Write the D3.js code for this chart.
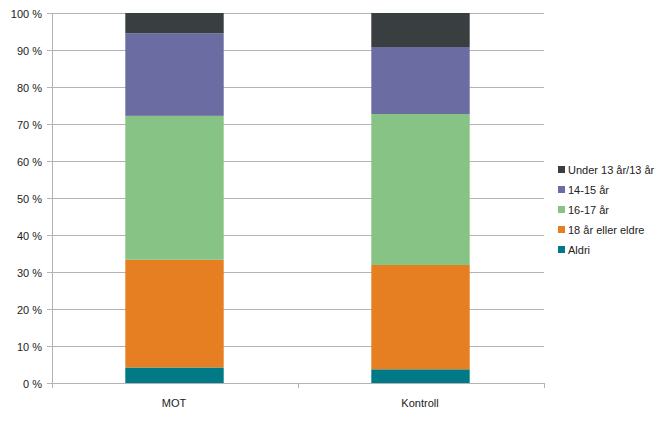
<!DOCTYPE html>
<html><head><meta charset="utf-8">
<script src="https://cdn.jsdelivr.net/npm/d3@7"></script>
<style>body{margin:0;background:#fff}svg{display:block}text{font-family:"Liberation Sans",Arial,sans-serif;fill:#222}</style>
</head><body><svg id="c" width="666" height="421"></svg>
<script>
const categories = ["MOT", "Kontroll"];
const seriesNames = ["Aldri", "18 år eller eldre", "16-17 år", "14-15 år", "Under 13 år/13 år"];
const aldri = [4.2, 3.7];
const atten = [29.1, 28.2];
const sekstenSytten = [38.9, 40.8];
const fjortenFemten = [22.3, 18.1];
const under13 = [5.5, 9.2];
const yTicks = [0,10,20,30,40,50,60,70,80,90,100];
const colors = ["#007a87", "#e67f22", "#86c385", "#6b6ca1", "#393e40"];

const seriesValues = [aldri, atten, sekstenSytten, fjortenFemten, under13];
const rows = categories.map((c,i)=>{const r={cat:c}; seriesNames.forEach((s,j)=>r[s]=seriesValues[j][i]); return r;});
const stack = d3.stack().keys(seriesNames)(rows);

const svg = d3.select("#c");
const L=52, R=544, T=13, B=383;
const x = d3.scaleBand().domain(categories).range([L,R]).paddingInner(0).paddingOuter(0);
const y = d3.scaleLinear().domain([0,100]).range([B,T]);

// grid
svg.append("g").selectAll("line").data(yTicks).join("line")
  .attr("x1",L-5).attr("x2",R).attr("y1",d=>y(d)+0.5).attr("y2",d=>y(d)+0.5)
  .attr("stroke","#b3b3b3").attr("stroke-width",1);
svg.append("line").attr("x1",L+0.5).attr("x2",L+0.5).attr("y1",T).attr("y2",B).attr("stroke","#b3b3b3");
svg.append("g").selectAll("text").data(yTicks).join("text")
  .attr("x",L-10).attr("y",d=>y(d)+4.5).attr("text-anchor","end").attr("font-size",11)
  .text(d=>d+" %");

// bars
const bw = x.bandwidth()*0.4;
svg.append("g").selectAll("g").data(stack).join("g").attr("fill",(d,i)=>colors[i])
  .selectAll("rect").data(d=>d).join("rect")
  .attr("x",d=>x(d.data.cat)+x.bandwidth()/2-bw/2-0.5)
  .attr("width",bw).attr("y",d=>y(d[1])).attr("height",d=>y(d[0])-y(d[1]));

// x axis ticks
const xt = [L, L+x.bandwidth(), R];
svg.append("g").selectAll("line").data(xt).join("line")
  .attr("x1",d=>d+0.5).attr("x2",d=>d+0.5).attr("y1",B).attr("y2",B+5).attr("stroke","#b3b3b3");
svg.append("g").selectAll("text").data(categories).join("text")
  .attr("x",d=>x(d)+x.bandwidth()/2-1).attr("y",407).attr("text-anchor","middle").attr("font-size",11)
  .text(d=>d);

// legend
const leg = svg.append("g").selectAll("g").data(seriesNames.slice().reverse()).join("g")
  .attr("transform",(d,i)=>`translate(558,${166+i*20})`);
leg.append("rect").attr("width",7).attr("height",7).attr("fill",d=>colors[seriesNames.indexOf(d)]);
leg.append("text").attr("x",10).attr("y",8).attr("font-size",11).text(d=>d);
</script></body></html>
